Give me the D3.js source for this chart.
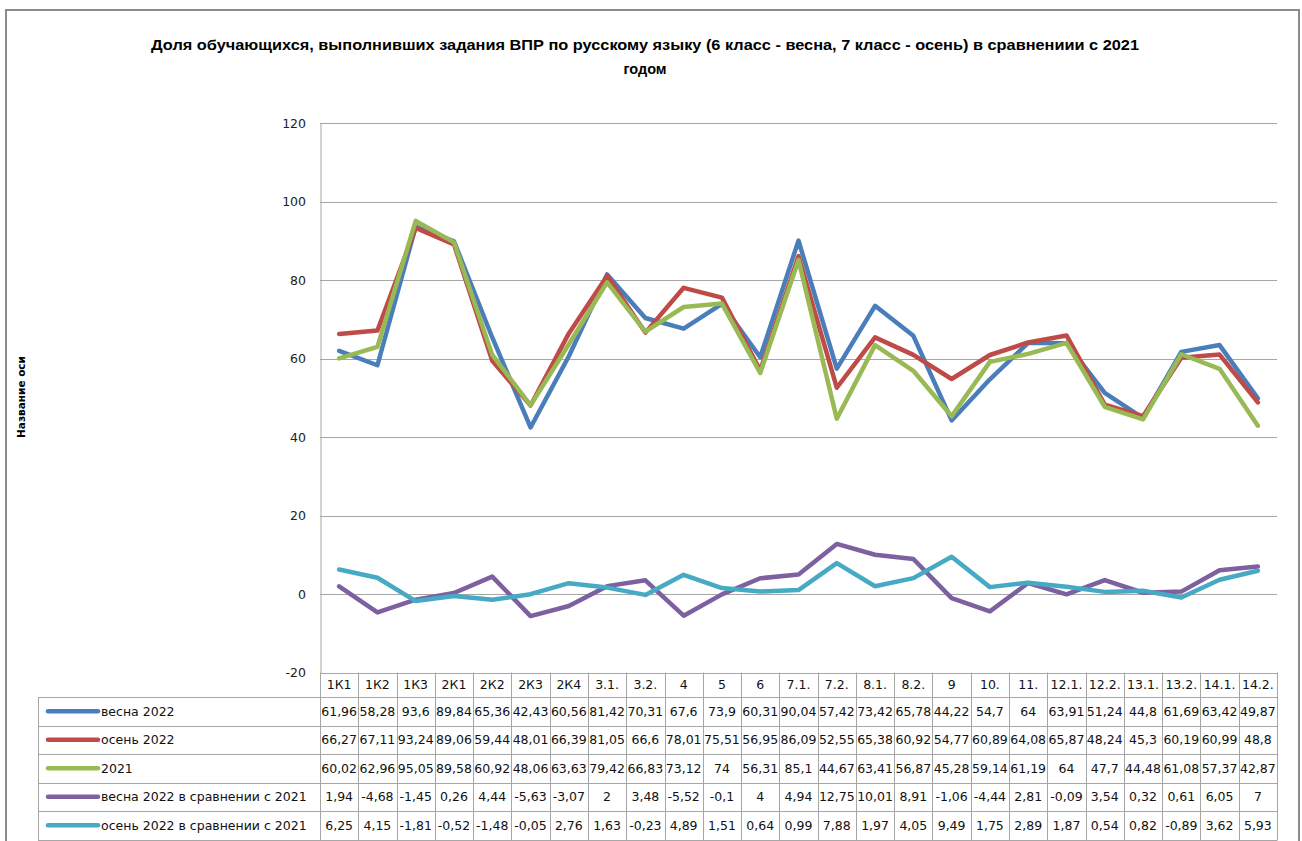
<!DOCTYPE html>
<html>
<head>
<meta charset="utf-8">
<script src="https://cdn.jsdelivr.net/npm/d3@7"></script>
<style>
  body { margin: 0; background: #fff; }
  svg { display: block; }
</style>
</head>
<body>
<svg id="chart" width="1302" height="841"></svg>
<script>
// data
var categories = ["1К1", "1К2", "1К3", "2К1", "2К2", "2К3", "2К4", "3.1.", "3.2.", "4", "5", "6", "7.1.", "7.2.",
    "8.1.", "8.2.", "9", "10.", "11.", "12.1.", "12.2.", "13.1.", "13.2.", "14.1.", "14.2."];

var vesna2022 = [61.96, 58.28, 93.6, 89.84, 65.36, 42.43, 60.56, 81.42, 70.31, 67.6, 73.9, 60.31, 90.04, 57.42,
    73.42, 65.78, 44.22, 54.7, 64, 63.91, 51.24, 44.8, 61.69, 63.42, 49.87];
var osen2022 = [66.27, 67.11, 93.24, 89.06, 59.44, 48.01, 66.39, 81.05, 66.6, 78.01, 75.51, 56.95, 86.09, 52.55,
    65.38, 60.92, 54.77, 60.89, 64.08, 65.87, 48.24, 45.3, 60.19, 60.99, 48.8];
var year2021 = [60.02, 62.96, 95.05, 89.58, 60.92, 48.06, 63.63, 79.42, 66.83, 73.12, 74, 56.31, 85.1, 44.67,
    63.41, 56.87, 45.28, 59.14, 61.19, 64, 47.7, 44.48, 61.08, 57.37, 42.87];
var vesnaDiff = [1.94, -4.68, -1.45, 0.26, 4.44, -5.63, -3.07, 2, 3.48, -5.52, -0.1, 4, 4.94, 12.75,
    10.01, 8.91, -1.06, -4.44, 2.81, -0.09, 3.54, 0.32, 0.61, 6.05, 7];
var osenDiff = [6.25, 4.15, -1.81, -0.52, -1.48, -0.05, 2.76, 1.63, -0.23, 4.89, 1.51, 0.64, 0.99, 7.88,
    1.97, 4.05, 9.49, 1.75, 2.89, 1.87, 0.54, 0.82, -0.89, 3.62, 5.93];

var seriesNames = ["весна 2022", "осень 2022", "2021", "весна 2022 в сравнении с 2021", "осень 2022 в сравнении с 2021"];
var seriesValues = [vesna2022, osen2022, year2021, vesnaDiff, osenDiff];
var seriesColors = ["#4a7ebb", "#be4b48", "#98b954", "#7d60a0", "#46aac5"];

var yTicks = [-20, 0, 20, 40, 60, 80, 100, 120];

var svg = d3.select("#chart");

// outer frame
svg.append("rect")
    .attr("x", 6).attr("y", 10)
    .attr("width", 1293).attr("height", 850)
    .attr("fill", "none")
    .attr("stroke", "#8c8c8c")
    .attr("stroke-width", 2);

// title
var title = svg.append("text")
    .attr("text-anchor", "middle")
    .style("font-family", "'Liberation Sans Narrow', 'Liberation Sans', Arial, sans-serif")
    .style("font-weight", "bold")
    .style("font-size", "14.5px")
    .attr("fill", "#000");
title.append("tspan")
    .attr("x", 645).attr("y", 50)
    .attr("textLength", 988)
    .attr("lengthAdjust", "spacingAndGlyphs")
    .text("Доля обучающихся, выполнивших задания  ВПР по русскому языку (6 класс - весна, 7 класс - осень) в сравнениии с 2021");
title.append("tspan")
    .attr("x", 645).attr("y", 74)
    .text("годом");

// plot area
const plot = { left: 320, right: 1277, top: 123, bottom: 672.5 };

var yScale = d3.scaleLinear()
    .domain([-20, 120])
    .range([plot.bottom, plot.top]);

var xBand = d3.scaleBand()
    .domain(categories)
    .range([plot.left, plot.right]);

var gridColor = "#a6a6a6";

// gridlines
svg.append("g")
    .selectAll("line")
    .data(yTicks)
    .enter()
    .append("line")
    .attr("x1", plot.left).attr("x2", plot.right)
    .attr("y1", d => Math.round(yScale(d)) + 0.5)
    .attr("y2", d => Math.round(yScale(d)) + 0.5)
    .attr("stroke", gridColor)
    .attr("stroke-width", 1);

// y axis
var yAxis = svg.append("g")
    .attr("transform", `translate(${plot.left},0)`)
    .call(d3.axisLeft(yScale).tickValues(yTicks).tickSize(0).tickPadding(14).tickFormat(d => String(d)));
yAxis.select(".domain").attr("stroke", gridColor).attr("stroke-width", 1)
    .attr("transform", "translate(0.5,0)");
yAxis.selectAll("text")
    .style("font-family", "'DejaVu Sans', Verdana, sans-serif")
    .style("font-size", "12.5px")
    .attr("fill", "#222");

// y axis title
svg.append("text")
    .attr("transform", "translate(25,397) rotate(-90)")
    .attr("text-anchor", "middle")
    .style("font-family", "'DejaVu Sans', Verdana, sans-serif")
    .style("font-weight", "bold")
    .style("font-size", "10.5px")
    .text("Название оси");

// lines
var line = d3.line()
    .x((d, i) => xBand(categories[i]) + xBand.bandwidth() / 2)
    .y(d => yScale(d));

seriesValues.forEach(function (vals, k) {
    svg.append("path")
        .datum(vals)
        .attr("fill", "none")
        .attr("stroke", seriesColors[k])
        .attr("stroke-width", 4.5)
        .attr("stroke-linejoin", "round")
        .attr("stroke-linecap", "round")
        .attr("d", line);
});

// data table
const headerTop = plot.bottom, headerBottom = 697;
const rowH = 28.5, tableLeft = 38;
var fmt = v => String(v).replace(".", ",");
var tableFont = "'DejaVu Sans', Verdana, sans-serif";

var table = svg.append("g")
    .attr("stroke", gridColor)
    .attr("stroke-width", 1)
    .attr("fill", "none");

// header row box and column separators
table.append("line")
    .attr("x1", tableLeft).attr("x2", plot.right)
    .attr("y1", headerBottom + 0.5).attr("y2", headerBottom + 0.5);

seriesNames.forEach(function (s, k) {
    var yb = Math.round(headerBottom + rowH * (k + 1)) + 0.5;
    table.append("line")
        .attr("x1", tableLeft).attr("x2", plot.right)
        .attr("y1", yb).attr("y2", yb);
});

var tableBottom = Math.round(headerBottom + rowH * seriesNames.length) + 0.5;
table.append("line")
    .attr("x1", tableLeft + 0.5).attr("x2", tableLeft + 0.5)
    .attr("y1", headerBottom).attr("y2", tableBottom);

categories.concat(["end"]).forEach(function (c, i) {
    var x = Math.round(plot.left + xBand.bandwidth() * i) + 0.5;
    table.append("line")
        .attr("x1", x).attr("x2", x)
        .attr("y1", headerTop).attr("y2", tableBottom);
});

// category labels
svg.append("g")
    .selectAll("text")
    .data(categories)
    .enter()
    .append("text")
    .attr("x", d => xBand(d) + xBand.bandwidth() / 2)
    .attr("y", (headerTop + headerBottom) / 2 + 4.5)
    .attr("text-anchor", "middle")
    .style("font-family", tableFont)
    .style("font-size", "12.5px")
    .attr("fill", "#111")
    .text(d => d);

// values and legend entries
seriesValues.forEach(function (vals, k) {
    var yc = headerBottom + rowH * k + rowH / 2;
    svg.append("g")
        .selectAll("text")
        .data(vals)
        .enter()
        .append("text")
        .attr("x", (d, i) => xBand(categories[i]) + xBand.bandwidth() / 2)
        .attr("y", yc + 4.5)
        .attr("text-anchor", "middle")
        .style("font-family", tableFont)
        .style("font-size", "12.5px")
        .attr("fill", "#111")
        .text(d => fmt(d));

    svg.append("line")
        .attr("x1", 48).attr("x2", 98)
        .attr("y1", yc).attr("y2", yc)
        .attr("stroke", seriesColors[k])
        .attr("stroke-width", 4.5)
        .attr("stroke-linecap", "round");

    svg.append("text")
        .attr("x", 101)
        .attr("y", yc + 4.5)
        .style("font-family", tableFont)
        .style("font-size", "12.5px")
        .attr("fill", "#111")
        .text(seriesNames[k]);
});
</script>
</body>
</html>
